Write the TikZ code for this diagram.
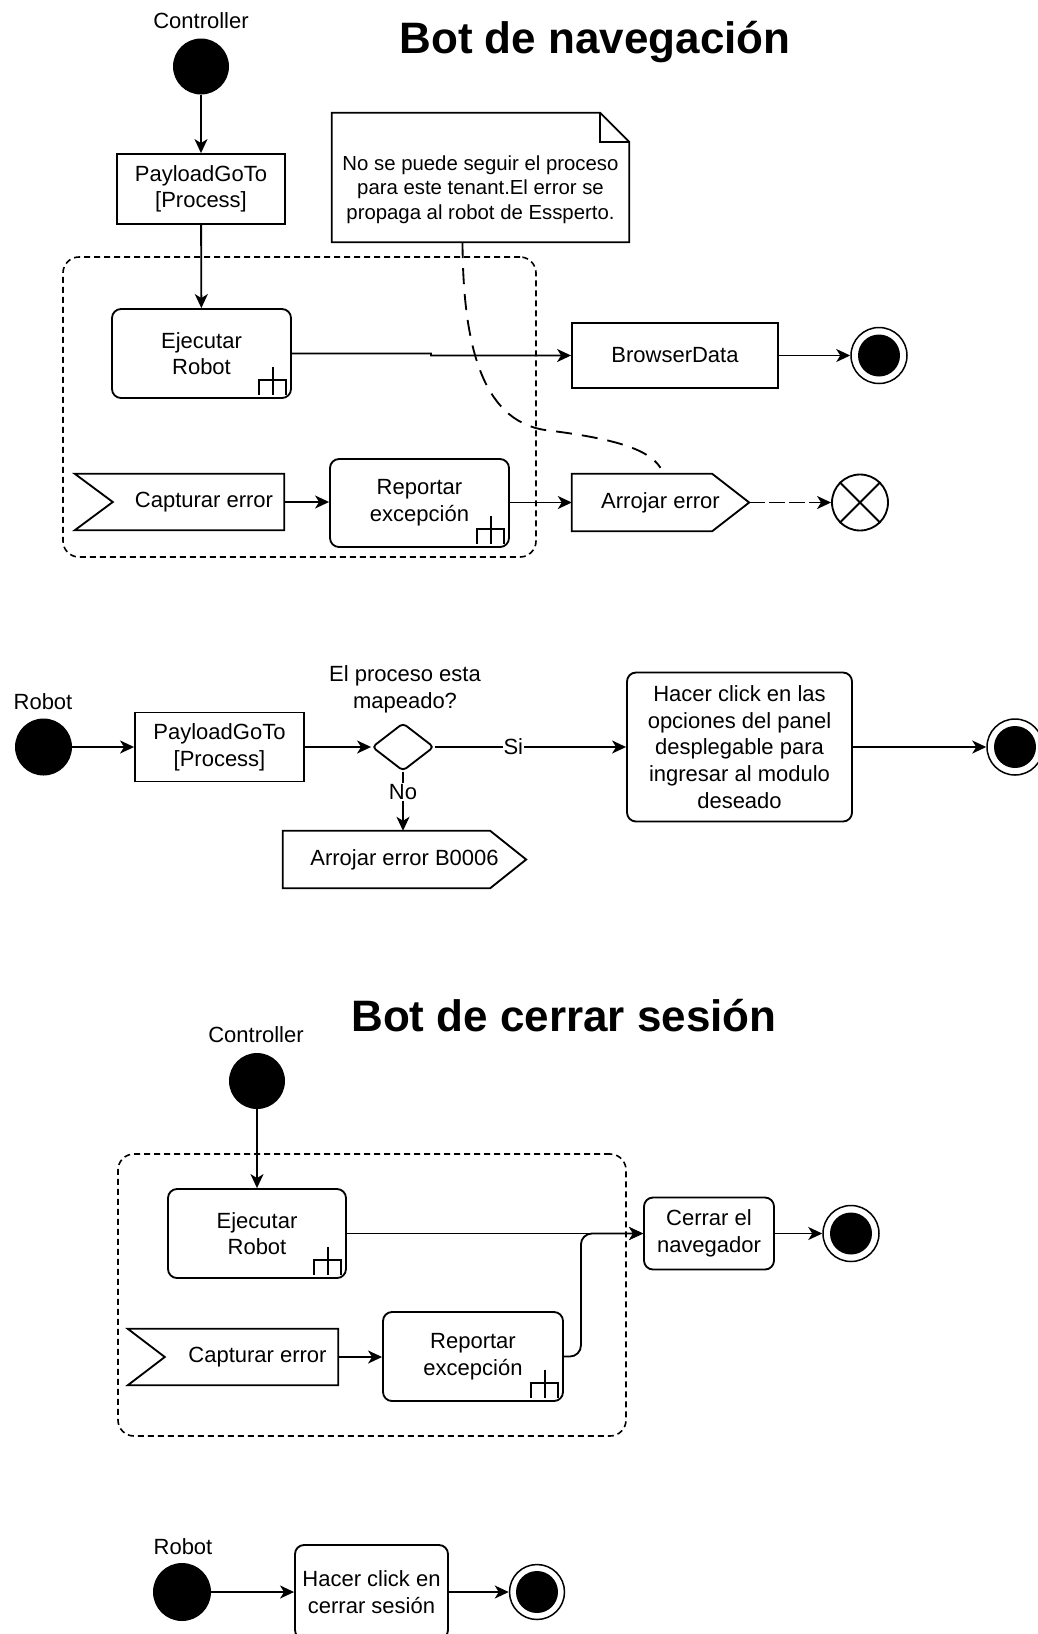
\documentclass[tikz,border=0pt]{standalone}
\usepackage{fontspec}
\setmainfont{Liberation Sans}
\usetikzlibrary{arrows.meta,shapes.geometric,calc}

\tikzset{
  every node/.style={font=\fontsize{22}{26.6}\selectfont, text=black},
  ln/.style={line width=1.85pt},
  flow/.style={ln, -{Stealth[length=14pt,width=13pt,inset=4pt]}},
  initnode/.style={circle, fill=black, minimum size=56pt, inner sep=0pt},
  finalnode/.style={circle, draw, line width=1.5pt, fill=white, minimum size=56pt, inner sep=0pt,
    path picture={\fill[black] (path picture bounding box.center) circle (21pt);}},
  flowfinal/.style={circle, draw, ln, fill=white, minimum size=56pt, inner sep=0pt},
  objbox/.style={rectangle, draw, ln, fill=white, inner sep=0pt, align=center},
  actbox/.style={rectangle, draw, ln, fill=white, rounded corners=9pt, inner sep=0pt, align=center},
  plain/.style={inner sep=0pt, align=center},
  groupbox/.style={draw, line width=1.6pt, dash pattern=on 6pt off 4pt, rounded corners=16pt, inner sep=0pt},
  headline/.style={font=\fontsize{44}{52}\selectfont\bfseries},
  lbl/.style={fill=white, inner sep=1pt},
  notetext/.style={font=\fontsize{20.35}{24.5}\selectfont, align=center, inner sep=0pt},
  decision/.style={diamond, draw, ln, fill=white, inner sep=0pt, rounded corners=4pt},
}

% sub-activity (rake) mark in the lower right corner of an action
\newcommand\rakemark[1]{%
  \draw[line width=1.6pt, shift={(#1.south east)}]
    (-19,-32) -- (-19,-4)
    (-33,-4) -- (-33,-19) -- (-6,-19) -- (-6,-4);}

\begin{document}
\begin{tikzpicture}[x=1pt,y=-1pt]
\useasboundingbox[fill=white] (0,0) rectangle (1037,1634);

% ================= Bot de navegación =================
\node[headline] (t1) at (595,42) {Bot de navegación};
\node (c1lbl) at (201,21) {Controller};
\node[initnode] (s1) at (201,66.5) {};
\node[objbox, minimum width=168pt, minimum height=70pt] (pg1) at (201,189) {PayloadGoTo\\{[Process]}};

\node[groupbox, minimum width=473pt, minimum height=300pt] (g1) at (299.5,407) {};

\node[actbox, minimum width=179pt, minimum height=89pt] (ej1) at (201.5,353.5) {Ejecutar\\Robot};
\rakemark{ej1}
\node[objbox, minimum width=206pt, minimum height=65pt] (bd1) at (675,355.5) {BrowserData};
\node[finalnode] (f1) at (879,355.5) {};

% accept event
\node[plain, minimum width=171pt, minimum height=56pt] (cap1) at (198.5,502) {\hspace*{11pt}Capturar error};
\draw[ln] ([xshift=-38pt]cap1.north west) -- (cap1.north east) -- (cap1.south east)
  -- ([xshift=-38pt]cap1.south west) -- (cap1.west) -- cycle;

\node[actbox, minimum width=179pt, minimum height=88pt] (rep1) at (419.5,503) {Reportar\\excepción};
\rakemark{rep1}

% send signal
\node[plain, minimum width=177pt, minimum height=57pt] (arr1) at (660.5,502.5) {Arrojar error};
\draw[ln] (arr1.north west) -- ([xshift=-37pt]arr1.north east) -- (arr1.east)
  -- ([xshift=-37pt]arr1.south east) -- (arr1.south west) -- cycle;

\node[flowfinal] (ff1) at (860,502.5) {};
\draw[ln] (ff1.north west) -- (ff1.south east) (ff1.north east) -- (ff1.south west);

% note
\node[plain, minimum width=297pt, minimum height=129pt] (note) at (480.5,177.5) {};
\draw[ln, fill=white] (note.south west) -- (note.north west) -- ([xshift=-29pt]note.north east)
  -- ([yshift=-29pt]note.north east) -- (note.south east) -- cycle;
\draw[ln] ([xshift=-29pt]note.north east) -- ++(0,29) -- ([yshift=-29pt]note.north east);
\node[notetext] (notetxt) at ([yshift=-12pt]note.center)
  {No se puede seguir el proceso\\para este tenant.El error se\\propaga al robot de Essperto.};

% flows
\draw[flow] (s1) -- (pg1);
\draw[flow] (pg1) -- (ej1);
\draw[flow] (ej1.east) -- ++(139,0) -- ([xshift=-140pt]bd1.west) -- (bd1.west);
\draw[flow] (bd1.east) -- (f1.west);
\draw[flow] (cap1.east) -- (cap1.east -| rep1.west);
\draw[flow] (rep1.east |- arr1.west) -- (arr1.west);
\draw[flow, dash pattern=on 16pt off 4pt] (arr1.east) -- (ff1.west);
\draw[ln, dash pattern=on 16pt off 10pt] ([xshift=-18pt]note.south)
  .. controls (463,340) and (480,420) .. (545,430)
  .. controls (610,438) and (648,448) .. ([yshift=6pt]arr1.north);

% ================= Robot: navegación =================
\node (r1lbl) at (43,702) {Robot};
\node[initnode, minimum size=57pt] (s2) at (43.5,747) {};
\node[objbox, minimum width=169pt, minimum height=69pt] (pg2) at (219.5,747) {PayloadGoTo\\{[Process]}};
\node[decision, minimum width=62pt, minimum height=48pt] (dia) at (403,747) {};
\node[plain] (dialbl) at (405,689) {El proceso esta\\mapeado?};
\node[actbox, minimum width=225pt, minimum height=149pt] (hc1) at (739.5,747)
  {Hacer click en las\\opciones del panel\\desplegable para\\ingresar al modulo\\deseado};
\node[finalnode] (f2) at (1015,747) {};

\node[plain, minimum width=243pt, minimum height=57pt] (arrB) at (404.5,859.5) {Arrojar error B0006};
\draw[ln] (arrB.north west) -- ([xshift=-36pt]arrB.north east) -- (arrB.east)
  -- ([xshift=-36pt]arrB.south east) -- (arrB.south west) -- cycle;

\draw[flow] (s2) -- (pg2);
\draw[flow] (pg2) -- (dia);
\draw[flow] (dia.east) -- node[lbl, pos=0.41] (si) {Si} (hc1.west);
\draw[flow] (dia.south) -- node[lbl, pos=0.34] (no) {No} (dia.south |- arrB.north);
\draw[flow] (hc1.east) -- (f2.west);

% ================= Bot de cerrar sesión =================
\node[headline] (t2) at (564,1016) {Bot de cerrar sesión};
\node (c2lbl) at (256,1035) {Controller};
\node[initnode] (s3) at (257,1081) {};

\node[groupbox, minimum width=508pt, minimum height=282pt] (g2) at (372,1295) {};

\node[actbox, minimum width=178pt, minimum height=89pt] (ej2) at (257,1233.5) {Ejecutar\\Robot};
\rakemark{ej2}
\node[plain, minimum width=173pt, minimum height=56pt] (cap2) at (251.5,1357) {\hspace*{12pt}Capturar error};
\draw[ln] ([xshift=-37pt]cap2.north west) -- (cap2.north east) -- (cap2.south east)
  -- ([xshift=-37pt]cap2.south west) -- (cap2.west) -- cycle;
\node[actbox, minimum width=180pt, minimum height=89pt] (rep2) at (473,1356.5) {Reportar\\excepción};
\rakemark{rep2}
\node[actbox, minimum width=130pt, minimum height=72pt] (cn) at (709,1233.5) {Cerrar el\\navegador};
\node[finalnode] (f3) at (851,1233.5) {};

\draw[flow] (s3) -- (ej2);
\draw[flow] (ej2.east) -- (cn.west);
\draw[flow] (cap2.east) -- (cap2.east -| rep2.west);
\draw[flow, rounded corners=11pt] (rep2.east) -- ++(17,0) |- (cn.west);
\draw[flow] (cn.east) -- (f3.west);

% ================= Robot: cerrar sesión =================
\node (r2lbl) at (183,1547) {Robot};
\node[initnode, minimum size=58pt] (s4) at (182,1592) {};
\node[actbox, minimum width=153pt, minimum height=94pt] (hc2) at (371.5,1592) {Hacer click en\\cerrar sesión};
\node[finalnode, minimum size=55pt] (f4) at (537,1592) {};

\draw[flow] (s4) -- (hc2);
\draw[flow] (hc2.east) -- (f4.west);
\end{tikzpicture}
\end{document}
